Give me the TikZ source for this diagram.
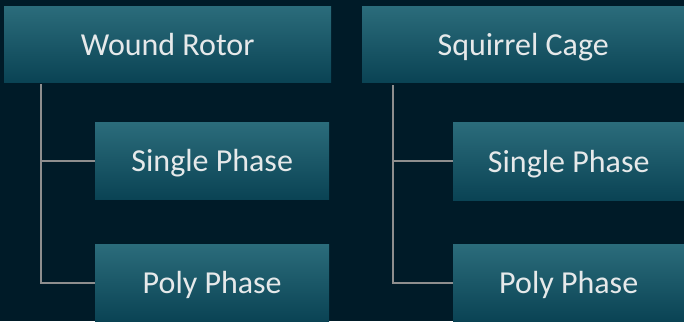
\documentclass[tikz,border=0pt]{standalone}
\usepackage{fontspec}
\setmainfont{Carlito}
\definecolor{bgc}{HTML}{001B28}
\definecolor{boxtop}{HTML}{2B6C7B}
\definecolor{boxbot}{HTML}{0A4354}
\definecolor{txt}{HTML}{E6E9EA}
\definecolor{linec}{HTML}{8E8E8E}
\tikzset{
  box/.style={rectangle, inner sep=0pt, top color=boxtop, bottom color=boxbot, draw=none,
    text=txt, font=\fontsize{32}{36}\selectfont, anchor=north west,
    text height=24pt, text depth=2pt},
  conn/.style={draw=linec, line width=2pt}
}
\begin{document}
\begin{tikzpicture}[x=1pt,y=-1pt]
\fill[bgc] (0,0) rectangle (684,321);
\useasboundingbox (0,0) rectangle (684,321);
\node[box, minimum width=327pt, minimum height=76pt] (wr) at (4,6) {Wound Rotor};
\node[box, minimum width=322pt, minimum height=76pt] (sc) at (362,6) {Squirrel Cage};
\node[box, minimum width=234pt, minimum height=77pt] (ws) at (95,122) {Single Phase};
\node[box, minimum width=234pt, minimum height=77pt] (wp) at (95,244) {Poly Phase};
\node[box, minimum width=231pt, minimum height=78pt] (ss) at (453,122) {Single Phase};
\node[box, minimum width=231pt, minimum height=77pt] (sp) at (453,244) {Poly Phase};
\coordinate (wl) at (41,84);
\coordinate (sl) at (392.5,85);
\draw[conn] (wl) |- (ws.west);
\draw[conn] (wl) |- ([yshift=-38.5pt]wp.north west);
\draw[conn] (sl) |- (ss.west);
\draw[conn] (sl) |- ([yshift=-38.5pt]sp.north west);
\end{tikzpicture}
\end{document}
